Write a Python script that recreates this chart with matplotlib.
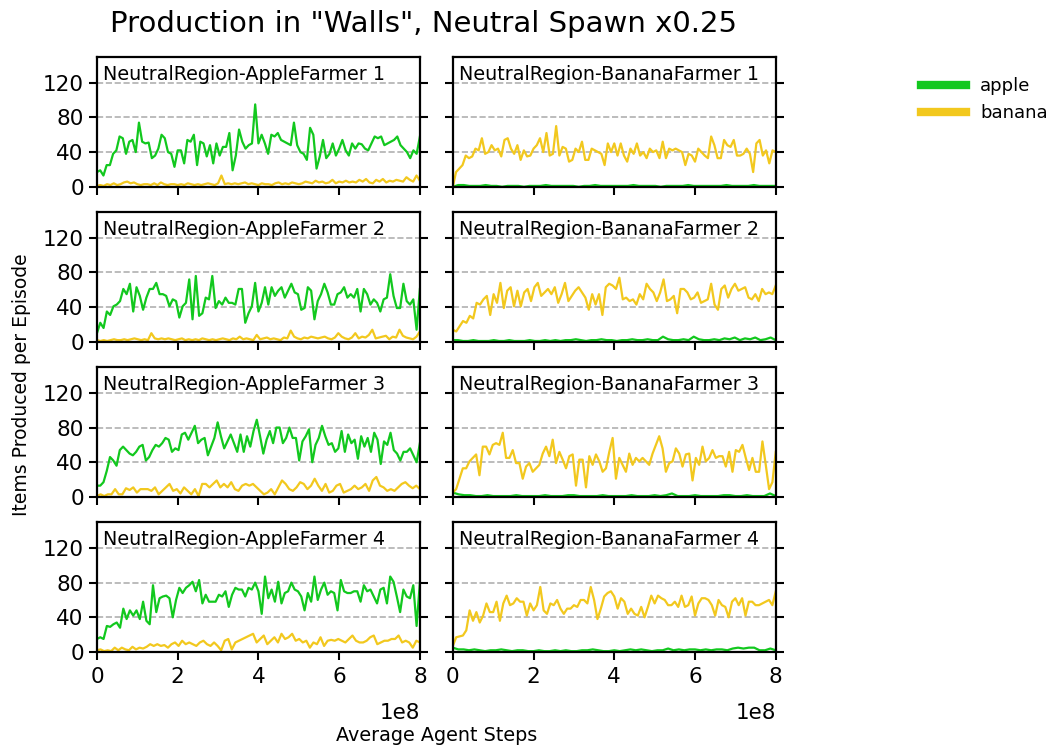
import matplotlib
matplotlib.use("Agg")
import matplotlib.pyplot as plt
import numpy as np

GREEN = "#12c81e"
YELLOW = "#f2c81e"

panel_titles = [
    "NeutralRegion-AppleFarmer 1", "NeutralRegion-BananaFarmer 1",
    "NeutralRegion-AppleFarmer 2", "NeutralRegion-BananaFarmer 2",
    "NeutralRegion-AppleFarmer 3", "NeutralRegion-BananaFarmer 3",
    "NeutralRegion-AppleFarmer 4", "NeutralRegion-BananaFarmer 4",
]

## apple farmers
apple_af1 = [17, 19, 13, 25, 25, 38, 42, 58, 56, 38, 52, 54, 40, 74, 52, 50, 51, 33, 36, 44,
             60, 56, 40, 38, 23, 42, 42, 27, 54, 52, 60, 25, 52, 50, 35, 48, 27, 50, 36, 46,
             46, 62, 19, 36, 66, 52, 44, 48, 50, 95, 50, 60, 50, 38, 60, 58, 62, 54, 52, 50,
             48, 74, 48, 40, 38, 31, 68, 60, 21, 35, 54, 33, 38, 50, 36, 44, 54, 42, 36, 50,
             44, 50, 49, 44, 42, 50, 58, 56, 58, 48, 50, 52, 54, 58, 48, 44, 40, 33, 42, 38, 58]
banana_af1 = [1, 2, 1, 3, 2, 4, 2, 3, 5, 6, 4, 5, 3, 2, 3, 3, 2, 4, 2, 5,
              3, 2, 3, 3, 2, 3, 2, 4, 3, 2, 3, 2, 3, 4, 3, 2, 4, 13, 3, 4,
              3, 4, 3, 4, 5, 3, 4, 3, 2, 4, 3, 3, 2, 4, 5, 3, 4, 3, 5, 4,
              3, 4, 6, 5, 4, 7, 5, 6, 4, 5, 8, 4, 6, 5, 7, 5, 6, 5, 8, 6,
              9, 5, 4, 8, 6, 9, 5, 7, 6, 8, 7, 6, 11, 8, 6, 13, 7]

apple_af2 = [10, 22, 16, 35, 31, 41, 43, 47, 61, 55, 67, 35, 63, 53, 37, 51, 61, 61, 68, 55,
             55, 53, 41, 49, 47, 28, 41, 45, 72, 26, 76, 30, 33, 51, 49, 76, 39, 47, 43, 51,
             45, 45, 43, 61, 61, 22, 33, 41, 68, 35, 45, 63, 43, 63, 53, 59, 63, 51, 59, 67,
             57, 55, 37, 39, 63, 59, 26, 47, 55, 67, 57, 43, 43, 55, 57, 63, 51, 55, 51, 61,
             35, 61, 55, 43, 49, 45, 35, 49, 51, 78, 53, 39, 39, 67, 47, 43, 49, 14, 61]
banana_af2 = [2, 1, 2, 1, 2, 3, 2, 2, 3, 2, 3, 4, 3, 2, 3, 2, 10, 4, 3, 4,
              3, 4, 3, 2, 3, 4, 2, 3, 2, 3, 2, 4, 3, 2, 3, 2, 3, 4, 3, 2,
              4, 3, 6, 3, 4, 3, 2, 8, 3, 4, 5, 3, 4, 3, 2, 5, 4, 13, 6, 4,
              3, 5, 4, 6, 5, 4, 5, 6, 4, 3, 5, 10, 6, 4, 3, 5, 10, 4, 6, 5,
              8, 14, 4, 5, 6, 7, 3, 6, 5, 14, 7, 5, 4, 3, 6, 12]

apple_af3 = [13, 13, 17, 30, 46, 42, 36, 54, 58, 54, 50, 48, 52, 58, 60, 42, 46, 54, 60, 58,
             62, 68, 66, 52, 56, 54, 72, 74, 66, 74, 82, 62, 66, 68, 48, 58, 68, 86, 70, 56,
             64, 72, 62, 52, 72, 52, 70, 58, 76, 89, 70, 50, 66, 76, 62, 80, 80, 62, 68, 80,
             68, 68, 42, 64, 70, 78, 40, 60, 68, 82, 70, 60, 62, 52, 56, 76, 52, 72, 62, 66,
             44, 70, 58, 68, 52, 74, 66, 38, 64, 60, 74, 54, 50, 42, 52, 52, 56, 48, 40, 62]
banana_af3 = [1, 3, 1, 3, 3, 9, 3, 3, 10, 8, 11, 5, 9, 9, 9, 7, 11, 3, 7, 11,
              15, 7, 9, 4, 11, 7, 3, 9, 1, 15, 15, 11, 15, 19, 11, 15, 11, 17, 9, 7,
              13, 15, 13, 15, 11, 7, 3, 5, 9, 3, 11, 19, 15, 9, 7, 11, 17, 15, 9, 13,
              21, 13, 7, 15, 5, 7, 13, 15, 5, 7, 9, 13, 9, 11, 15, 7, 19, 23, 13, 11,
              7, 9, 7, 11, 15, 17, 13, 10, 13, 9]

apple_af4 = [15, 17, 15, 30, 29, 32, 34, 28, 50, 38, 48, 42, 48, 38, 58, 36, 32, 77, 46, 62,
             64, 65, 62, 40, 60, 74, 68, 74, 77, 81, 70, 83, 56, 66, 58, 58, 58, 66, 64, 70,
             52, 66, 74, 72, 72, 64, 74, 72, 80, 70, 44, 87, 62, 72, 58, 81, 56, 68, 70, 80,
             72, 70, 64, 48, 68, 58, 87, 60, 72, 80, 66, 70, 68, 48, 83, 70, 68, 68, 70, 70,
             58, 77, 70, 72, 64, 56, 72, 74, 56, 87, 81, 64, 46, 72, 64, 62, 77, 30, 80]
banana_af4 = [2, 3, 1, 2, 1, 5, 2, 5, 3, 2, 6, 3, 5, 4, 6, 9, 7, 9, 7, 8,
              5, 9, 11, 7, 13, 9, 11, 9, 7, 11, 13, 9, 7, 11, 7, 2, 13, 15, 3, 11,
              13, 15, 17, 19, 21, 11, 15, 19, 9, 13, 17, 11, 21, 15, 17, 21, 13, 15, 11, 13,
              5, 11, 9, 17, 7, 13, 14, 13, 15, 13, 11, 15, 19, 13, 11, 11, 13, 17, 19, 9,
              11, 13, 13, 15, 15, 19, 11, 13, 11, 5, 13, 11]

## banana farmers
apple_bf1 = [0, 2, 2, 1, 1, 1, 2, 1, 1, 0, 1, 1, 1, 0, 1, 1, 1, 2, 1, 1,
             1, 1, 1, 0, 1, 1, 2, 1, 1, 1, 1, 1, 1, 2, 1, 1, 1, 1, 0, 1,
             1, 1, 1, 2, 1, 1, 1, 1, 1, 1, 2, 1, 1, 1, 1, 2, 1, 1, 1, 1]
banana_bf1 = [0, 17, 21, 25, 36, 33, 35, 44, 42, 56, 38, 40, 48, 42, 44, 35, 54, 56, 44, 38,
              48, 31, 42, 35, 36, 44, 48, 56, 40, 62, 36, 38, 70, 36, 46, 44, 29, 31, 44, 40,
              52, 31, 31, 44, 42, 40, 38, 25, 50, 40, 50, 36, 50, 36, 29, 44, 38, 50, 36, 40,
              33, 44, 40, 42, 33, 52, 33, 44, 42, 44, 42, 40, 25, 38, 36, 29, 44, 40, 36, 33,
              58, 48, 33, 33, 54, 48, 46, 54, 36, 36, 38, 44, 38, 17, 50, 54, 36, 42, 27, 42, 40]

apple_bf2 = [2, 2, 1, 1, 2, 1, 1, 1, 2, 1, 1, 2, 1, 1, 1, 2, 1, 1, 2, 1,
             2, 1, 2, 2, 3, 2, 1, 2, 2, 3, 2, 2, 1, 2, 2, 3, 2, 2, 3, 2,
             2, 6, 3, 2, 2, 3, 2, 6, 3, 2, 2, 3, 2, 4, 3, 5, 2, 4, 3, 5, 2, 3, 5, 2]
banana_bf2 = [14, 12, 18, 24, 22, 30, 27, 45, 43, 49, 53, 31, 55, 45, 68, 39, 59, 63, 41, 59,
              41, 57, 61, 47, 63, 68, 53, 57, 61, 55, 63, 45, 55, 68, 47, 53, 59, 63, 57, 51,
              37, 55, 43, 55, 31, 63, 67, 65, 61, 74, 49, 51, 47, 49, 43, 55, 49, 67, 61, 57,
              47, 57, 72, 47, 49, 53, 33, 61, 61, 57, 49, 51, 57, 45, 47, 49, 67, 43, 37, 61,
              65, 51, 61, 67, 59, 61, 63, 51, 49, 55, 47, 61, 55, 57, 55, 65]

apple_bf3 = [5, 3, 2, 2, 1, 1, 2, 1, 1, 1, 1, 2, 1, 1, 1, 1, 2, 1, 1, 1,
             2, 2, 1, 1, 1, 1, 2, 1, 1, 1, 1, 2, 1, 1, 1, 2, 1, 2, 4, 1,
             1, 1, 2, 1, 1, 1, 1, 2, 2, 1, 1, 2, 1, 1, 1, 4, 1]
banana_bf3 = [5, 9, 21, 33, 33, 41, 45, 49, 25, 58, 58, 49, 60, 62, 60, 74, 45, 45, 54, 39,
              39, 21, 35, 39, 29, 33, 37, 50, 58, 47, 66, 39, 52, 43, 33, 47, 49, 13, 43, 43,
              11, 47, 37, 49, 41, 29, 33, 52, 68, 21, 45, 37, 29, 50, 37, 45, 41, 45, 41, 37,
              50, 60, 70, 56, 29, 39, 41, 56, 50, 35, 49, 50, 19, 45, 37, 58, 41, 45, 54, 45,
              47, 47, 35, 52, 29, 54, 52, 60, 45, 31, 45, 29, 29, 64, 37, 9, 17, 52]

apple_bf4 = [5, 3, 3, 2, 3, 2, 1, 2, 2, 3, 2, 1, 2, 2, 1, 1, 2, 1, 1, 2,
             1, 2, 1, 1, 2, 2, 3, 2, 1, 1, 2, 1, 2, 3, 2, 3, 2, 1, 2, 2,
             4, 2, 3, 2, 3, 3, 2, 3, 2, 3, 3, 2, 4, 5, 4, 5, 5, 2, 2, 4, 2]
banana_bf4 = [7, 17, 18, 19, 25, 48, 36, 46, 34, 42, 56, 46, 46, 58, 36, 56, 65, 54, 56, 62,
              58, 58, 42, 56, 48, 54, 75, 48, 44, 56, 54, 60, 50, 44, 50, 50, 54, 52, 60, 60,
              56, 75, 60, 38, 50, 64, 68, 70, 64, 50, 62, 58, 44, 50, 44, 42, 52, 40, 52, 65,
              56, 65, 62, 60, 54, 54, 58, 52, 65, 52, 54, 64, 42, 56, 62, 62, 60, 54, 42, 60,
              54, 52, 40, 58, 62, 54, 62, 42, 58, 58, 54, 54, 56, 58, 60, 54, 70]

panel_apple = [apple_af1, apple_bf1, apple_af2, apple_bf2, apple_af3, apple_bf3, apple_af4, apple_bf4]
panel_banana = [banana_af1, banana_bf1, banana_af2, banana_bf2, banana_af3, banana_bf3, banana_af4, banana_bf4]

fig, axes = plt.subplots(4, 2, figsize=(10.54, 7.46), dpi=100, sharex=True, sharey=True)
fig.subplots_adjust(left=0.092, right=0.736, top=0.924, bottom=0.126, wspace=0.102, hspace=0.192)

for i, ax in enumerate(axes.flat):
    a = np.array(panel_apple[i])
    b = np.array(panel_banana[i])
    ax.plot(np.linspace(0, 8e8, len(a)), a, color=GREEN, lw=1.6, label="apple")
    ax.plot(np.linspace(0, 8e8, len(b)), b, color=YELLOW, lw=1.6, label="banana")
    ax.text(0.02, 0.94, panel_titles[i], transform=ax.transAxes, ha="left", va="top", fontsize=13.8)
    ax.set_xlim(0, 8e8)
    ax.set_ylim(0, 150)
    ax.set_yticks([0, 40, 80, 120])
    ax.set_xticks([0, 2e8, 4e8, 6e8, 8e8])
    ax.yaxis.grid(True, linestyle="--", color="#b0b0b0", lw=1.2)
    ax.tick_params(axis="both", direction="out", length=6, width=1.5, labelsize=15.5)
    ax.tick_params(axis="x", pad=5)
    ax.tick_params(axis="y", left=True, right=True)
    for s in ax.spines.values():
        s.set_linewidth(1.6)
    ax.xaxis.get_offset_text().set_fontsize(15.5)
    ax.xaxis.OFFSETTEXTPAD = 11

fig.suptitle('Production in "Walls", Neutral Spawn x0.25', x=0.402, y=0.987, fontsize=21)
fig.supxlabel("Average Agent Steps", x=0.414, y=0.002, fontsize=13.8)
fig.supylabel("Items Produced per Episode", x=0.011, y=0.485, fontsize=13.5)

handles, labels = axes[0, 0].get_legend_handles_labels()
leg = fig.legend(handles, labels, loc="upper left", bbox_to_anchor=(0.858, 0.918),
                 frameon=False, fontsize=13, handlelength=2.5)
for line in leg.get_lines():
    line.set_linewidth(6)

fig.savefig("out.png", dpi=100)
